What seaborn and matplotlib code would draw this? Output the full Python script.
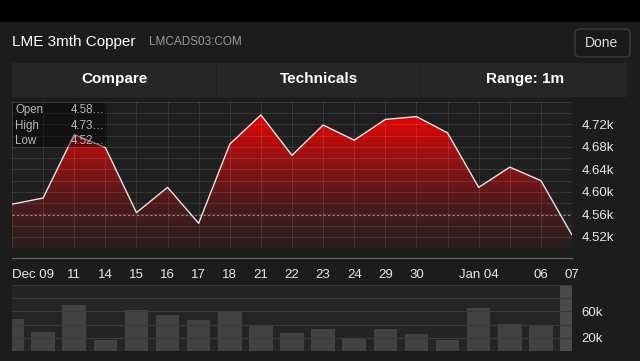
import numpy as np
import matplotlib
matplotlib.use("Agg")
import matplotlib.pyplot as plt
import matplotlib.transforms as mtransforms
import seaborn as sns
from matplotlib.colors import LinearSegmentedColormap
from matplotlib.patches import Polygon, Rectangle, FancyBboxPatch

# data
dates = ["", "Dec 09", "11", "14", "15", "16", "17", "18", "21", "22",
         "23", "24", "29", "30", "", "Jan 04", "", "06", "07"]
price = [4578, 4589, 4702, 4679, 4563, 4608, 4544, 4685, 4737, 4665,
         4719, 4692, 4729, 4734, 4705, 4608, 4644, 4620, 4523]
volume = [48000, 29000, 69000, 17000, 62000, 55000, 47000, 60000, 39000, 28000,
          33000, 18000, 33000, 26000, 17000, 65000, 41000, 39000, 110000]
prev_close = 4558
info_rows = [("Open", "4.58…"), ("High", "4.73…"), ("Low", "4.52…")]

BG = "#1c1c1c"
TXT = "#e8e8e8"

sns.set_style("dark")
plt.rcParams["font.family"] = ["Liberation Sans", "DejaVu Sans"]

fig = plt.figure(figsize=(6.4, 3.61), dpi=100, facecolor=BG)
W, H = 640, 361


def box(x0, y0, x1, y1):
    return [x0 / W, 1 - y1 / H, (x1 - x0) / W, (y1 - y0) / H]


# header
fig.patches.append(Rectangle((0, 1 - 22 / H), 1, 22 / H, transform=fig.transFigure,
                             facecolor="black", edgecolor="none"))
fig.text(12 / W, 1 - 42 / H, "LME 3mth Copper", color="white", fontsize=11, va="center")
fig.text(149 / W, 1 - 42 / H, "LMCADS03:COM", color="#9a9a9a", fontsize=8.5, va="center")
fig.patches.append(FancyBboxPatch((575 / W, 1 - 57 / H), 55 / W, 28 / H,
                                  boxstyle="round,pad=0,rounding_size=0.01",
                                  transform=fig.transFigure, facecolor="#1a1a1a",
                                  edgecolor="#3c3c3c", linewidth=1))
fig.text(602 / W, 1 - 43 / H, "Done", color="#dddddd", fontsize=10, ha="center", va="center")

# tab bar
fig.patches.append(Rectangle((12 / W, 1 - 97 / H), 615 / W, 34 / H, transform=fig.transFigure,
                             facecolor="#262626", edgecolor="none"))
for xd in (216, 420):
    fig.patches.append(Rectangle((xd / W, 1 - 97 / H), 1 / W, 34 / H, transform=fig.transFigure,
                                 facecolor="#1f1f1f", edgecolor="none"))
for xc, lab in [(114, "Compare"), (319, "Technicals"), (525, "Range: 1m")]:
    fig.text(xc / W, 1 - 79 / H, lab, color="white", fontsize=11, fontweight="bold",
             ha="center", va="center")

# price chart
x = np.arange(len(price))
ax = fig.add_axes(box(12, 102, 572, 248))
ax.set_facecolor("#1f1f1f")
ymin, ymax = 4500, 4760

cmap = LinearSegmentedColormap.from_list(
    "cu", [(0, "#2a1e1f"), (0.3, "#4d1a1a"), (0.55, "#861414"),
           (0.8, "#c80909"), (1.0, "#f20000")])
grad = np.linspace(0, 1, 256).reshape(-1, 1)
im = ax.imshow(grad, cmap=cmap, origin="lower", aspect="auto",
               extent=[x[0], x[-1], ymin, ymax], zorder=1)
verts = [(x[0], ymin)] + list(zip(x, price)) + [(x[-1], ymin)]
poly = Polygon(verts, closed=True, facecolor="none", edgecolor="none")
ax.add_patch(poly)
im.set_clip_path(poly)

sns.lineplot(x=x, y=price, ax=ax, color="#e4e4e4", linewidth=1, zorder=3)
ax.axhline(prev_close, color="#c0b0b0", lw=0.8, ls=(0, (2, 2)), alpha=0.7, zorder=2.6)

ax.set_xlim(x[0], x[-1])
ax.set_ylim(ymin, ymax)
ax.set_xticks(x)
ax.set_xticklabels(dates)
ax.set_yticks(np.arange(4520, 4721, 40))
ax.set_yticklabels([f"{v / 1000:.2f}k" for v in np.arange(4520, 4721, 40)])
ax.set_yticks(np.arange(4500, 4761, 20), minor=True)
ax.yaxis.tick_right()
ax.tick_params(axis="y", which="both", length=0, pad=7, labelsize=9.5, labelcolor=TXT)
ax.tick_params(axis="x", length=5, width=0.8, color="#8a8a8a", pad=3, labelsize=9.5,
               labelcolor=TXT, direction="out")
ax.set_axisbelow(False)
ax.yaxis.grid(True, which="major", color="white", alpha=0.1, lw=0.8)
ax.yaxis.grid(True, which="minor", color="white", alpha=0.1, lw=0.8)
ax.xaxis.grid(True, which="major", color="white", alpha=0.1, lw=0.8)
for s in ("top", "left", "right"):
    ax.spines[s].set_visible(False)
ax.spines["bottom"].set_position(("outward", 7))
ax.spines["bottom"].set_color("#6a6a6a")
ax.spines["bottom"].set_linewidth(0.8)
ax.set_xlabel("")
ax.set_ylabel("")

# first date label sits flush with the left edge
first = ax.get_xticklabels()[1]
first.set_transform(first.get_transform() +
                    mtransforms.ScaledTranslation(-10 / 100, 0, fig.dpi_scale_trans))

# info box
ax.add_patch(Rectangle((0.002, 0.692), 0.168, 0.30, transform=ax.transAxes,
                       facecolor="black", alpha=0.45, edgecolor="none", zorder=4))
for i, (k, v) in enumerate(info_rows):
    yy = 0.945 - i * 0.106
    ax.text(0.006, yy, k, transform=ax.transAxes, color="#b8b8b8", fontsize=8.3,
            va="center", zorder=5)
    ax.text(0.165, yy, v, transform=ax.transAxes, color="#b8b8b8", fontsize=8.3,
            va="center", ha="right", zorder=5)

# volume panel
vax = fig.add_axes(box(12, 285, 572, 351))
vax.set_facecolor("#252525")
sns.barplot(x=x, y=volume, ax=vax, color="#424242", width=0.76, saturation=1,
            edgecolor="none", linewidth=0)
vax.patches[-1].set_facecolor("#4a4a4a")
vax.set_xlim(x[0], x[-1])
vax.set_ylim(0, 100000)
for gy in range(20000, 100001, 20000):
    vax.axhline(gy, color="#3a3a3a", lw=0.8, zorder=5)
vax.set_xticks([])
vax.set_yticks([20000, 60000])
vax.set_yticklabels(["20k", "60k"])
vax.yaxis.tick_right()
vax.tick_params(axis="y", length=0, pad=7, labelsize=9.5, labelcolor=TXT)
for s in vax.spines.values():
    s.set_visible(False)
vax.set_xlabel("")
vax.set_ylabel("")

fig.savefig("out.png", dpi=100, facecolor=BG)
